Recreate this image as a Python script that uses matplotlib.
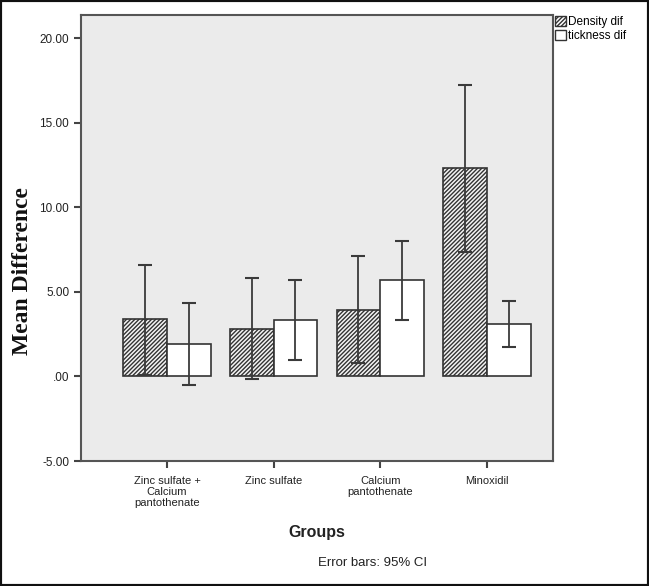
import numpy as np
import matplotlib.pyplot as plt
import matplotlib.patches as mpatches

groups = ["Zinc sulfate +\nCalcium\npantothenate", "Zinc sulfate", "Calcium\npantothenate", "Minoxidil"]
density = [3.40, 2.83, 3.95, 12.32]
density_lo = [0.10, -0.14, 0.77, 7.36]
density_hi = [6.61, 5.80, 7.14, 17.24]
thick = [1.89, 3.31, 5.67, 3.11]
thick_lo = [-0.53, 0.94, 3.32, 1.73]
thick_hi = [4.35, 5.67, 8.00, 4.45]
yticks = [-5, 0, 5, 10, 15, 20]
ytick_labels = ["-5.00", ".00", "5.00", "10.00", "15.00", "20.00"]

plt.rcParams['font.family'] = ['Liberation Sans', 'DejaVu Sans']
plt.rcParams['hatch.linewidth'] = 1.0
plt.rcParams['hatch.color'] = '#333333'

fig = plt.figure(figsize=(6.49, 5.86), dpi=100)
ax = fig.add_axes([81/649, 1 - 461/586, (553-81)/649, (461-15)/586])
ax.set_facecolor('#ebebeb')

x = np.arange(len(groups))
w = 0.41
ec = '#333333'
ax.bar(x - w/2, density, w, color='#f4f4f4', edgecolor=ec, hatch='////////', linewidth=1.2, zorder=2)
ax.bar(x + w/2, thick, w, color='white', edgecolor=ec, linewidth=1.2, zorder=2)

d = np.array(density); t = np.array(thick)
ax.errorbar(x - w/2, d, yerr=[d - np.array(density_lo), np.array(density_hi) - d], fmt='none',
            ecolor='#3a3a3a', elinewidth=1.3, capsize=5, capthick=1.5, zorder=3)
ax.errorbar(x + w/2, t, yerr=[t - np.array(thick_lo), np.array(thick_hi) - t], fmt='none',
            ecolor='#3a3a3a', elinewidth=1.3, capsize=5, capthick=1.5, zorder=3)

ax.set_xlim(-0.806, 3.62)
ax.set_ylim(-5, 21.36)
ax.set_yticks(yticks)
ax.set_yticklabels(ytick_labels, fontsize=8.5, color='#222222')
ax.set_xticks(x)
ax.set_xticklabels(groups, fontsize=8, color='#222222', linespacing=1.1)
ax.tick_params(axis='both', length=5, width=1.5, color='#444444')
ax.tick_params(axis='x', pad=6)
for s in ax.spines.values():
    s.set_color('#555555')
    s.set_linewidth(1.5)

fig.text(23/649, 1 - 271/586, "Mean Difference", fontsize=17, fontweight='bold', family='Liberation Serif',
         rotation=90, ha='center', va='center', color='#111111')
ax.set_xlabel("Groups", fontsize=11.5, fontweight='bold', labelpad=12, color='#222222')
fig.text(373/649, 1 - 563/586, "Error bars: 95% CI", fontsize=9.5, ha='center', va='center', color='#222222')

h1 = mpatches.Patch(facecolor='white', edgecolor=ec, hatch='////////', label='Density dif')
h2 = mpatches.Patch(facecolor='white', edgecolor=ec, label='tickness dif')
fig.legend(handles=[h1, h2], loc='upper left', bbox_to_anchor=(553/649, 1 - 14/586), frameon=False,
           fontsize=8.5, handlelength=0.9, handleheight=0.9, handletextpad=0.2, labelspacing=0.15,
           borderaxespad=0, borderpad=0.2)

fig.patches.append(mpatches.Rectangle((0, 0), 1, 1, transform=fig.transFigure, fill=False,
                                      edgecolor='#111111', linewidth=3))
fig.savefig("out.png", dpi=100)
